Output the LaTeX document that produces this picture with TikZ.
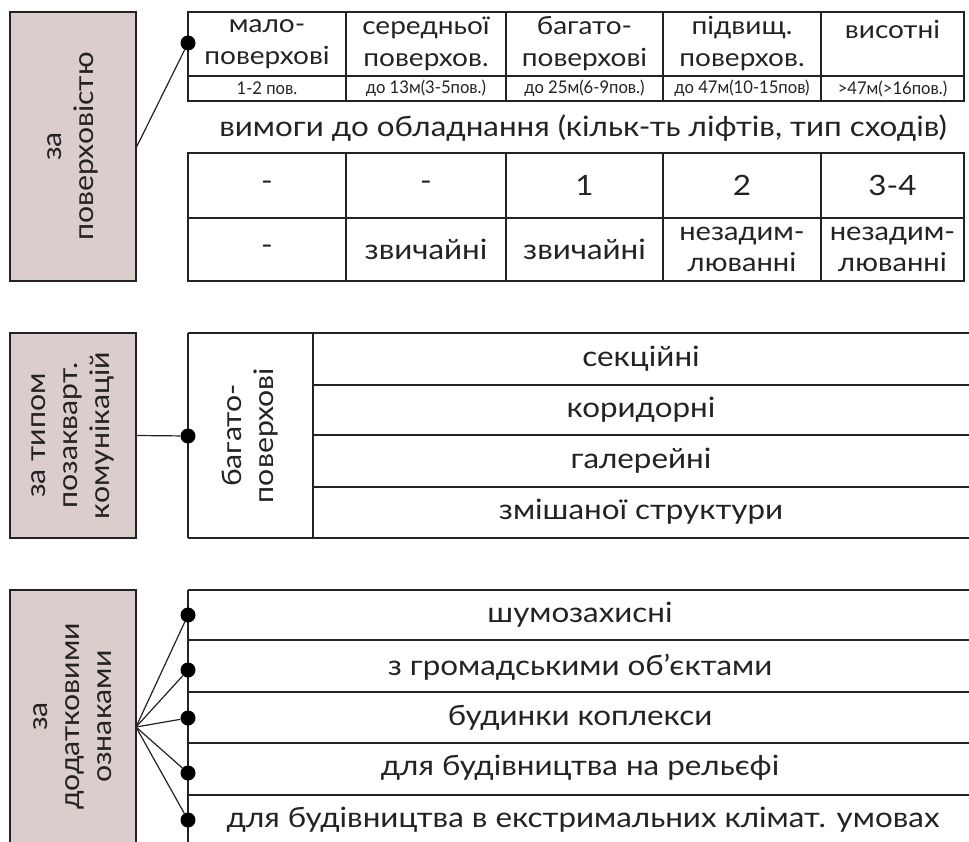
\documentclass[tikz,border=0pt]{standalone}
\usepackage{fontspec}
\setmainfont{Lato}[FakeStretch=1.12]
\newfontfamily\narrowfont{Lato}[FakeStretch=0.95]
\definecolor{boxpink}{RGB}{220,205,205}
\definecolor{ink}{RGB}{35,35,35}
\begin{document}
\begin{tikzpicture}[x=1pt,y=1pt,
  catbox/.style={draw=ink, line width=1.6pt, fill=boxpink, minimum width=126pt, inner sep=0pt},
  dotnode/.style={circle, fill=black, inner sep=0pt, minimum size=15pt},
  grid/.style={draw=ink, line width=1.6pt},
  link/.style={draw=ink, line width=1.2pt},
  cell/.style={font=\fontsize{28}{32}\selectfont, text=ink, align=center, inner sep=0pt},
  head/.style={font=\fontsize{25}{32}\selectfont, text=ink, align=center, inner sep=0pt},
  small/.style={font=\narrowfont\fontsize{17.5}{17.5}\selectfont, text=ink, inner sep=0pt},
  vtext/.style={rotate=90, align=center, font=\fontsize{27}{32}\selectfont, text=ink, inner sep=0pt}
]
\useasboundingbox (0,0) rectangle (969,-841);
\fill[white] (0,0) rectangle (969,-841);

% ---------- section 1 ----------
\node[catbox, minimum height=269pt] (box1) at (73,-146.5) {};
\node[vtext] (box1t) at (box1.center) {за\\поверховістю};

\draw[grid] (188,-12) rectangle (964,-101);
\draw[grid] (188,-76) -- (964,-76);
\foreach \x in {346,506,663,821} \draw[grid] (\x,-12) -- (\x,-101);

\node[head] (h1) at (267,-44) {мало-\\поверхові};
\node[head] (h2) at (426,-44) {середньої\\поверхов.};
\node[head] (h3) at (584.5,-44) {багато-\\поверхові};
\node[head] (h4) at (742,-44) {підвищ.\\поверхов.};
\node[head] (h5) at (892.5,-29) {висотні};

\node[small] (s1) at (267,-88.5) {1-2 пов.};
\node[small] (s2) at (426,-88.5) {до 13м(3-5пов.)};
\node[small] (s3) at (584.5,-88.5) {до 25м(6-9пов.)};
\node[small] (s4) at (742,-88.5) {до 47м(10-15пов)};
\node[small] (s5) at (892.5,-88.5) {>47м(>16пов.)};

\node[cell] (req) at (583,-128) {вимоги до обладнання (кільк-ть ліфтів, тип сходів)};

\draw[grid] (188,-153) rectangle (964,-281);
\draw[grid] (188,-218) -- (964,-218);
\foreach \x in {346,506,663,821} \draw[grid] (\x,-153) -- (\x,-281);

\node[cell] (a1) at (267,-185.5) {-};
\node[cell] (a2) at (426,-185.5) {-};
\node[cell] (a3) at (584.5,-185.5) {1};
\node[cell] (a4) at (742,-185.5) {2};
\node[cell] (a5) at (892.5,-185.5) {3-4};

\node[cell] (b1) at (267,-249.5) {-};
\node[cell] (b2) at (426,-249.5) {звичайні};
\node[cell] (b3) at (584.5,-249.5) {звичайні};
\node[head, font=\fontsize{26}{31}\selectfont] (b4) at (742,-249.5) {незадим-\\люванні};
\node[head, font=\fontsize{26}{31}\selectfont] (b5) at (892.5,-249.5) {незадим-\\люванні};

\node[dotnode] (d1) at (188,-43) {};
\draw[link] (box1.east) -- (d1);

% ---------- section 2 ----------
\node[catbox, minimum height=205pt] (box2) at (73,-435.5) {};
\node[vtext] (box2t) at (box2.center) {за типом\\позакварт.\\комунікацій};

\draw[grid] (188,-333) -- (969,-333);
\draw[grid] (188,-538) -- (969,-538);
\draw[grid] (188,-333) -- (188,-538);
\draw[grid] (313,-333) -- (313,-538);
\foreach \y in {385,435,487} \draw[grid] (313,-\y) -- (969,-\y);

\node[vtext] (mh) at (250.5,-435.5) {багато-\\поверхові};
\node[cell] (c1) at (641,-359) {секційні};
\node[cell] (c2) at (641,-410) {коридорні};
\node[cell] (c3) at (641,-461) {галерейні};
\node[cell] (c4) at (641,-512) {змішаної структури};

\node[dotnode] (d2) at (188,-436) {};
\draw[link] (box2.east) -- (d2);

% ---------- section 3 ----------
\node[catbox, minimum height=253pt] (box3) at (73,-716.5) {};
\node[vtext] (box3t) at (box3.center) {за\\додатковими\\ознаками};

\draw[grid] (188,-590) -- (188,-845);
\foreach \y in {590,640,692,743,795} \draw[grid] (188,-\y) -- (969,-\y);

\node[cell] (r1) at (580,-615) {шумозахисні};
\node[cell] (r2) at (580,-667) {з громадськими об'єктами};
\node[cell] (r3) at (580,-718) {будинки коплекси};
\node[cell] (r4) at (580,-768) {для будівництва на рельєфі};
\node[cell] (r5) at (583,-820) {для будівництва в екстримальних клімат. умовах};

\coordinate (hub) at (136,-727);
\node[dotnode] (e1) at (188,-615) {};
\node[dotnode] (e2) at (188,-670) {};
\node[dotnode] (e3) at (188,-718) {};
\node[dotnode] (e4) at (188,-773) {};
\node[dotnode] (e5) at (188,-820) {};
\foreach \i in {1,...,5} \draw[link] (hub) -- (e\i);
\end{tikzpicture}
\end{document}
